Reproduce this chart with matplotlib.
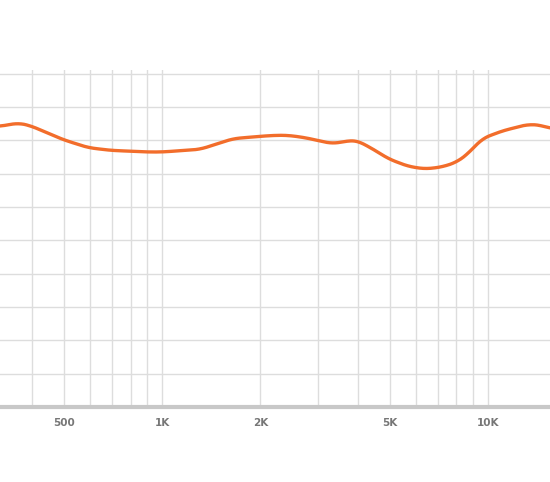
import numpy as np
import matplotlib
matplotlib.use('Agg')
from matplotlib import pyplot as plt

# respuesta en frecuencia
freq = [318, 362, 394, 497, 593, 693, 899, 1000, 1308, 1651, 1998, 2222, 2435,
        2746, 3323, 3826, 3993, 4502, 4935, 5683, 6409, 7225, 8035, 8683,
        9585, 11040, 13265, 14640, 15490]
db = [2.1, 2.6, 2.2, 0.1, -1.1, -1.5, -1.75, -1.75, -1.35, 0.25, 0.6, 0.75, 0.75,
      0.4, -0.5, 0.0, -0.1, -1.5, -2.75, -3.9, -4.3, -4.0, -3.25, -2.0,
      0.25, 1.4, 2.4, 2.25, 1.75]

grid_freqs = [400, 500, 600, 700, 800, 900, 1000, 2000, 3000, 4000, 5000,
              6000, 7000, 8000, 9000, 10000]
tick_labels = {500: '500', 1000: '1K', 2000: '2K', 5000: '5K', 10000: '10K'}
db_grid = list(range(-35, 15, 5))

# curva suave en escala log
lx = np.log10(freq)
xs = np.linspace(lx[0], lx[-1], 600)
ys = np.interp(xs, lx, db)
k = np.ones(17) / 17
ys_s = np.convolve(np.pad(ys, 8, mode='edge'), k, mode='valid')

fig = plt.figure(figsize=(5.5, 4.82), dpi=100)
ax = fig.add_axes([0, 1 - 407 / 482, 1, 337 / 482])
ax.set_xscale('log')
ax.set_xlim(318, 15490)
ax.set_ylim(-40, -40 + 337 / 6.667)

for f in grid_freqs:
    ax.axvline(f, color='#dddddd', lw=1.0, zorder=1)
for d in db_grid:
    ax.axhline(d, color='#dddddd', lw=1.0, zorder=1)

ax.plot(10 ** xs, ys_s, color='#f26d2b', lw=2.4, zorder=3, solid_capstyle='round')

for s in ['top', 'left', 'right']:
    ax.spines[s].set_visible(False)
ax.spines['bottom'].set_color('#c8c8c8')
ax.spines['bottom'].set_linewidth(3)

ax.set_xticks(list(tick_labels.keys()))
ax.set_xticklabels(list(tick_labels.values()), fontsize=7.5, color='#777777',
                   fontweight='bold', family=['Liberation Sans Narrow', 'DejaVu Sans'])
ax.xaxis.set_minor_locator(matplotlib.ticker.NullLocator())
ax.tick_params(axis='x', length=0, pad=8)
ax.set_yticks([])

plt.savefig('out.png', dpi=100)
